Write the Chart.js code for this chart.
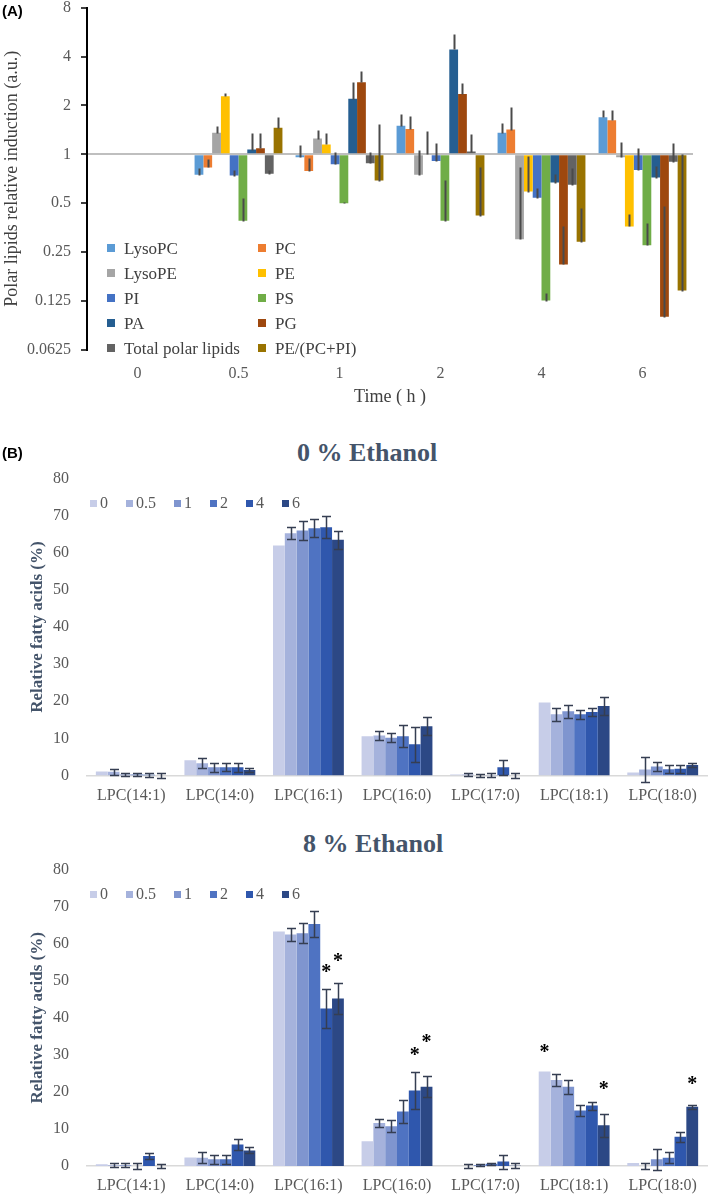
<!DOCTYPE html>
<html>
<head>
<meta charset="utf-8">
<script src="https://cdn.jsdelivr.net/npm/chart.js@4.4.0/dist/chart.umd.min.js"></script>
<style>
  body { margin: 0; background: #fff; }
  #page { position: relative; width: 709px; height: 1194px; overflow: hidden; font-family: "Liberation Serif", "Times New Roman", serif; }
  canvas { position: absolute; left: 0; }
  .panel { position: absolute; left: 2px; font-family: "Liberation Sans", Arial, sans-serif; font-weight: bold; font-size: 15px; color: #000; }
  .title { position: absolute; font-weight: bold; font-size: 26px; color: #44546A; white-space: nowrap; line-height: 30px; }
  .legA { position: absolute; font-size: 17px; color: #404040; line-height: 20px; white-space: nowrap; }
  .legA i, .legB i { display: inline-block; width: 8px; height: 8px; margin-right: 9px; vertical-align: 2px; }
  .legB { position: absolute; left: 90px; font-size: 16px; color: #595959; line-height: 20px; white-space: nowrap; }
  .legB span { margin-right: 18px; }
  .legB i { width: 7px; height: 7px; margin-right: 3px; vertical-align: 1px; }
</style>
</head>
<body>
<div id="page">
  <canvas id="chartA" width="709" height="422" style="top:-12px"></canvas>
  <div class="panel" style="top:2px">(A)</div>
  <div id="legendA"></div>

  <div class="panel" style="top:444px">(B)</div>
  <div class="title" style="left:297px; top:438px">0 % Ethanol</div>
  <canvas id="chartB0" width="709" height="351" style="top:459px"></canvas>
  <div class="legB" id="legendB0" style="top:493px"></div>

  <div class="title" style="left:303px; top:829px">8 % Ethanol</div>
  <canvas id="chartB8" width="709" height="344" style="top:850px"></canvas>
  <div class="legB" id="legendB8" style="top:884px"></div>
</div>

<script>
// ---------- Panel A data ----------
const timesA = ['0', '0.5', '1', '2', '4', '6'];
const lipidNames = ['LysoPC', 'PC', 'LysoPE', 'PE', 'PI', 'PS', 'PA', 'PG', 'Total polar lipids', 'PE/(PC+PI)'];
const lipidColors = ['#5B9BD5', '#ED7D31', '#A5A5A5', '#FFC000', '#4472C4', '#70AD47', '#255E91', '#9E480E', '#636363', '#997300'];
const yTicksA = [0.0625, 0.125, 0.25, 0.5, 1, 2, 4, 8];

const lysoPC  = [1, 0.75, 0.96, 1.50, 1.36, 1.69];
const pc      = [1, 0.83, 0.79, 1.43, 1.42, 1.62];
const lysoPE  = [1, 1.36, 1.25, 0.75, 0.30, 0.96];
const pe      = [1, 2.28, 1.15, 1.00, 0.59, 0.36];
const pi      = [1, 0.74, 0.87, 0.91, 0.54, 0.80];
const ps      = [1, 0.39, 0.50, 0.39, 0.126, 0.276];
const pa      = [1, 1.07, 2.20, 4.42, 0.67, 0.72];
const pg      = [1, 1.09, 2.78, 2.35, 0.21, 0.10];
const totalPL = [1, 0.76, 0.88, 1.04, 0.65, 0.90];
const peRatio = [1, 1.46, 0.69, 0.42, 0.29, 0.145];

// error bars (plus direction only)
const lysoPCErr  = [0, 0.07, 0.18, 0.26, 0.20, 0.18];
const pcErr      = [0, 0.10, 0.16, 0.29, 0.54, 0.25];
const lysoPEErr  = [0, 0.13, 0.16, 0.31, 0.53, 0.23];
const peErr      = [0, 0.09, 0.20, 0.39, 0.39, 0.07];
const piErr      = [0, 0.06, 0.16, 0.27, 0.08, 0.30];
const psErr      = [0, 0.15, 0.01, 0.31, 0.014, 0.10];
const paErr      = [0, 0.28, 0.59, 1.12, 0.09, 0.13];
const pgErr      = [0, 0.26, 0.47, 0.40, 0.15, 0.38];
const totalPLErr = [0, 0.04, 0.15, 0.29, 0.17, 0.28];
const peRatioErr = [0, 0.24, 0.84, 0.42, 0.18, 0.855];

// ---------- Panel B data ----------
const lpcSpecies = ['LPC(14:1)', 'LPC(14:0)', 'LPC(16:1)', 'LPC(16:0)', 'LPC(17:0)', 'LPC(18:1)', 'LPC(18:0)'];
const timesB = ['0', '0.5', '1', '2', '4', '6'];
const timeColors = ['#C7CDE8', '#A5B2DC', '#7F95CF', '#4F73C2', '#2F57AD', '#2C4885'];

// 0 % ethanol, one array per time point
const eth0_t0  = [1.1, 4.1, 62.0, 10.6, 0.3, 19.7, 0.8];
const eth0_t05 = [1.0, 3.3, 65.3, 10.8, 0.3, 16.5, 1.6];
const eth0_t1  = [0.3, 2.2, 66.0, 10.2, 0.0, 17.3, 2.4];
const eth0_t2  = [0.3, 2.2, 66.6, 10.6, 0.1, 16.5, 1.7];
const eth0_t4  = [0.2, 2.2, 66.9, 8.4, 2.2, 17.1, 1.8];
const eth0_t6  = [0.0, 1.5, 63.5, 13.3, 0.0, 18.7, 2.8];
const eth0Err_t0  = [0, 0, 0, 0, 0, 0, 0];
const eth0Err_t05 = [0.8, 1.3, 1.6, 1.3, 0.4, 1.7, 3.3];
const eth0Err_t1  = [0.5, 1.2, 2.5, 1.3, 0.5, 1.8, 1.3];
const eth0Err_t2  = [0.5, 1.1, 2.4, 3.0, 0.5, 1.2, 1.1];
const eth0Err_t4  = [0.6, 1.2, 3.0, 4.8, 2.0, 1.1, 1.1];
const eth0Err_t6  = [0.6, 0.5, 2.4, 2.5, 0.6, 2.4, 0.6];

// 8 % ethanol
const eth8_t0  = [0.5, 2.3, 63.3, 6.7, 0.0, 25.5, 0.8];
const eth8_t05 = [0.2, 2.2, 62.5, 11.6, 0.0, 23.2, 0.0];
const eth8_t1  = [0.2, 1.8, 62.8, 10.7, 0.3, 21.4, 1.8];
const eth8_t2  = [0.0, 1.8, 65.3, 14.7, 0.6, 15.0, 2.2];
const eth8_t4  = [2.7, 5.8, 42.5, 20.4, 1.2, 16.3, 7.9];
const eth8_t6  = [0.0, 4.2, 45.2, 21.4, 0.1, 11.0, 16.0];
const eth8Err_t0  = [0, 0, 0, 0, 0, 0, 0];
const eth8Err_t05 = [0.6, 1.5, 1.7, 1.2, 0.6, 1.6, 0.9];
const eth8Err_t1  = [0.5, 1.3, 2.7, 1.6, 0.3, 1.9, 2.8];
const eth8Err_t2  = [0.7, 1.2, 3.6, 3.0, 0.3, 1.4, 1.5];
const eth8Err_t4  = [0.7, 1.4, 5.3, 5.1, 1.9, 1.1, 1.3];
const eth8Err_t6  = [0.6, 0.8, 4.1, 2.8, 0.6, 3.1, 0.5];

// significance stars: [species index, time index, value]
const stars8 = [[2, 4, 53.5], [2, 5, 56.5], [3, 4, 31.0], [3, 5, 34.5], [5, 0, 32.0], [5, 5, 22.0], [6, 5, 23.3]];

const SERIF = '"Liberation Serif", "Times New Roman", serif';

// Error bar plugin
const errorBars = {
    id: 'errorBars',
    afterDatasetsDraw(chart, args, opts) {
        const ctx = chart.ctx;
        const y = chart.scales.y;
        ctx.save();
        ctx.strokeStyle = opts.color;
        ctx.lineWidth = opts.width;
        chart.data.datasets.forEach((ds, i) => {
            if (!ds.errors) return;
            const meta = chart.getDatasetMeta(i);
            meta.data.forEach((bar, j) => {
                const e = ds.errors[j];
                if (!e) return;
                const v = ds.data[j];
                const top = Math.round(y.getPixelForValue(v + e)) + 0.5;
                const bot = Math.round(opts.plusOnly ? y.getPixelForValue(v) : y.getPixelForValue(v - e)) + 0.5;
                const x = Math.round(bar.x) + 0.5;
                ctx.beginPath();
                ctx.moveTo(x, top);
                ctx.lineTo(x, bot);
                if (opts.cap) {
                    ctx.moveTo(x - opts.cap, top); ctx.lineTo(x + opts.cap, top);
                    ctx.moveTo(x - opts.cap, bot); ctx.lineTo(x + opts.cap, bot);
                }
                ctx.stroke();
            });
        });
        ctx.restore();
    }
};

// Stars plugin
const starMarks = {
    id: 'starMarks',
    afterDatasetsDraw(chart, args, opts) {
        if (!opts.stars) return;
        const ctx = chart.ctx;
        ctx.save();
        ctx.fillStyle = '#000';
        ctx.font = 'bold 20px ' + SERIF;
        ctx.textAlign = 'center';
        ctx.textBaseline = 'middle';
        opts.stars.forEach(([c, s, v]) => {
            const bar = chart.getDatasetMeta(s).data[c];
            ctx.fillText('*', bar.x, chart.scales.y.getPixelForValue(v) + 5);
        });
        ctx.restore();
    }
};

// ---------- Panel A chart ----------
const seriesA = [lysoPC, pc, lysoPE, pe, pi, ps, pa, pg, totalPL, peRatio];
const errorsA = [lysoPCErr, pcErr, lysoPEErr, peErr, piErr, psErr, paErr, pgErr, totalPLErr, peRatioErr];

new Chart(document.getElementById('chartA'), {
    type: 'bar',
    data: {
        labels: timesA,
        datasets: lipidNames.map((name, i) => ({
            label: name,
            data: seriesA[i],
            errors: errorsA[i],
            base: 1,
            backgroundColor: lipidColors[i],
            barPercentage: 1.0,
            categoryPercentage: 0.87
        }))
    },
    options: {
        responsive: false,
        animation: false,
        layout: { padding: { top: 7, right: 16, left: 0, bottom: 0 } },
        plugins: {
            legend: { display: false },
            tooltip: { enabled: false },
            errorBars: { color: '#4a4a4a', width: 2, plusOnly: true }
        },
        scales: {
            x: {
                grid: { display: false },
                border: { display: false },
                ticks: { color: '#595959', font: { family: SERIF, size: 16 }, padding: 6 },
                title: { display: true, text: 'Time ( h )', color: '#404040', font: { family: SERIF, size: 18 }, padding: { top: 0, bottom: 2 } },
                afterFit: (scale) => { scale.height = 60; }
            },
            y: {
                type: 'logarithmic',
                min: 0.0625,
                max: 8,
                afterBuildTicks: (scale) => { scale.ticks = yTicksA.map(v => ({ value: v })); },
                ticks: {
                    color: '#595959',
                    font: { family: SERIF, size: 16 },
                    padding: 10,
                    callback: (v) => String(v)
                },
                grid: {
                    color: (c) => (c.tick && c.tick.value === 1) ? '#BFBFBF' : 'rgba(0,0,0,0)',
                    lineWidth: 2,
                    tickColor: '#000',
                    tickLength: 6,
                    tickWidth: 1.5
                },
                border: { display: true, color: '#000', width: 2 },
                title: { display: true, text: 'Polar lipids relative induction (a.u.)', color: '#404040', font: { family: SERIF, size: 18 }, padding: { top: 1, bottom: 0 } },
                afterFit: (scale) => { scale.width = 87; }
            }
        }
    },
    plugins: [errorBars]
});

// Legend A (inside the plot area, two columns)
const legA = document.getElementById('legendA');
lipidNames.forEach((name, i) => {
    const d = document.createElement('div');
    d.className = 'legA';
    d.style.left = (107 + (i % 2) * 151) + 'px';
    d.style.top = (239 + Math.floor(i / 2) * 25) + 'px';
    d.innerHTML = '<i style="background:' + lipidColors[i] + '"></i>' + name;
    legA.appendChild(d);
});

// ---------- Panel B charts ----------
function makeFattyChart(id, seriesList, errList, stars, xHeight) {
    return new Chart(document.getElementById(id), {
        type: 'bar',
        data: {
            labels: lpcSpecies,
            datasets: timesB.map((t, i) => ({
                label: t,
                data: seriesList[i],
                errors: errList[i],
                backgroundColor: timeColors[i],
                barPercentage: 1.0,
                categoryPercentage: 0.8
            }))
        },
        options: {
            responsive: false,
            animation: false,
            layout: { padding: { top: 12, right: 2, left: 0, bottom: 0 } },
            plugins: {
                legend: { display: false },
                tooltip: { enabled: false },
                errorBars: { color: '#353E52', width: 1.5, cap: 4.5 },
                starMarks: { stars: stars }
            },
            scales: {
                x: {
                    grid: { display: false },
                    border: { display: true, color: '#D9D9D9', width: 1.5 },
                    ticks: { color: '#595959', font: { family: SERIF, size: 16 }, padding: 2.5 },
                    afterFit: (scale) => { scale.height = xHeight; }
                },
                y: {
                    min: 0,
                    max: 80,
                    ticks: { stepSize: 10, color: '#595959', font: { family: SERIF, size: 16 }, padding: 10 },
                    grid: { display: false },
                    border: { display: false },
                    title: { display: true, text: 'Relative fatty acids (%)', color: '#44546A', font: { family: SERIF, size: 17, weight: 'bold' }, padding: { top: 27, bottom: 0 } },
                    afterFit: (scale) => { scale.width = 87; }
                }
            }
        },
        plugins: [errorBars, starMarks]
    });
}

makeFattyChart('chartB0',
    [eth0_t0, eth0_t05, eth0_t1, eth0_t2, eth0_t4, eth0_t6],
    [eth0Err_t0, eth0Err_t05, eth0Err_t1, eth0Err_t2, eth0Err_t4, eth0Err_t6],
    null, 34.5);

makeFattyChart('chartB8',
    [eth8_t0, eth8_t05, eth8_t1, eth8_t2, eth8_t4, eth8_t6],
    [eth8Err_t0, eth8Err_t05, eth8Err_t1, eth8Err_t2, eth8Err_t4, eth8Err_t6],
    stars8, 28);

// Legends B
['legendB0', 'legendB8'].forEach(id => {
    const el = document.getElementById(id);
    el.innerHTML = timesB.map((t, i) => '<span><i style="background:' + timeColors[i] + '"></i>' + t + '</span>').join('');
});
</script>
</body>
</html>
